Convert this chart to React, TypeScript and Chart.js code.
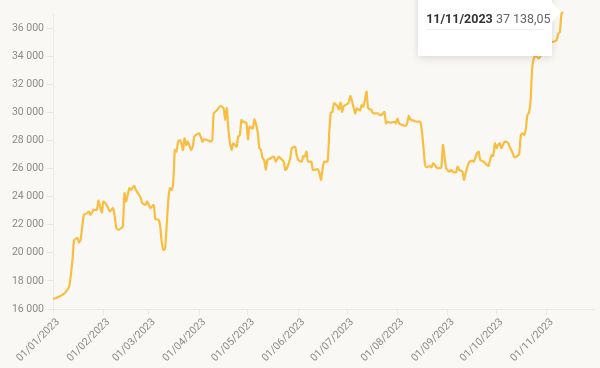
import React, { useEffect, useRef } from "react";
import { Chart, registerables } from "chart.js";

Chart.register(...registerables);

// Day offsets from 01/01/2023 and values
const days: number[] = [
  0, 2, 4, 6, 8, 10, 12, 13, 15, 16, 17, 19, 21, 22, 23, 25, 27, 28, 30, 31,
  33, 35, 37, 38, 39, 40, 42, 43, 44, 45, 47, 48, 50, 51, 53, 54, 55, 57, 58, 60,
  62, 63, 65, 66, 67, 68, 69, 70, 71, 72, 73, 74, 75, 76, 77, 78, 79, 80, 81, 82,
  83, 85, 86, 87, 88, 90, 92, 93, 95, 97, 98, 99, 101, 103, 105, 106, 107, 108, 109, 110,
  111, 113, 114, 115, 116, 117, 119, 120, 121, 123, 124, 126, 127, 128, 129, 130, 131, 132, 134, 136,
  137, 139, 140, 142, 143, 144, 146, 147, 149, 150, 151, 153, 154, 155, 156, 157, 159, 160, 163, 164,
  165, 166, 167, 169, 170, 171, 172, 173, 175, 176, 177, 178, 179, 181, 182, 183, 184, 186, 187, 189,
  190, 191, 192, 193, 194, 196, 197, 200, 201, 203, 204, 205, 206, 208, 210, 211, 212, 213, 215, 217,
  218, 219, 220, 222, 224, 226, 227, 228, 229, 230, 232, 233, 234, 236, 237, 239, 240, 241, 242, 244,
  245, 246, 248, 249, 250, 252, 253, 254, 256, 258, 259, 261, 262, 263, 265, 267, 268, 270, 271, 272,
  273, 274, 275, 276, 278, 280, 281, 283, 284, 286, 287, 288, 289, 290, 291, 292, 293, 294, 295, 296,
  297, 299, 301, 303, 305, 307, 308, 310, 311, 312, 313, 314,
];

const values: number[] = [
  16710, 16780, 16900, 17020, 17250, 17600, 19500, 20880, 21050, 20730, 20920, 22700, 22820, 22940, 22700, 23060, 23060, 23720, 22860, 23650,
  23410, 22940, 23180, 22580, 21760, 21640, 21760, 21870, 24240, 23650, 24600, 24480, 24760, 24480, 24120, 23890, 23530, 23410, 23650, 23180,
  23410, 22400, 22350, 21870, 20690, 20210, 20330, 22000, 23770, 24600, 24480, 24960, 27320, 27200, 27910, 28030, 27800, 27320, 28150, 27680,
  27910, 27320, 27560, 28270, 28390, 28510, 27910, 28080, 28030, 27910, 28030, 29930, 30160, 30450, 30290, 29450, 30290, 28740, 27800, 27320,
  27800, 27560, 28270, 28390, 29450, 29330, 29260, 28080, 28980, 28860, 29500, 28620, 27440, 27320, 26730, 26610, 25900, 26610, 26730, 26850,
  26490, 26850, 26730, 26490, 25900, 26020, 26730, 27440, 27560, 26970, 26610, 26490, 26900, 26850, 27200, 26490, 26490, 25900, 25950, 25670,
  25190, 26020, 26490, 26490, 28510, 29970, 30040, 30640, 30450, 30210, 30690, 30040, 30450, 30590, 30690, 31160, 30830, 29930, 30290, 30120,
  30520, 30400, 30880, 31470, 30290, 30160, 29930, 29930, 29810, 29880, 30040, 29220, 29330, 29260, 29330, 29220, 29570, 29220, 29100, 29030,
  29220, 29740, 29500, 29400, 29330, 29330, 28740, 27560, 26260, 26090, 26180, 26090, 26380, 26090, 26020, 26090, 27680, 26850, 26020, 25780,
  25900, 25780, 25710, 26130, 25900, 25780, 25190, 25670, 26420, 26560, 26490, 27090, 27200, 26610, 26490, 26260, 26180, 26970, 26900, 27800,
  27440, 27680, 27800, 27440, 27910, 27840, 27560, 27090, 26800, 26900, 27090, 28390, 28510, 28390, 28800, 29810, 29970, 30880, 33240, 33840,
  34070, 33840, 34200, 34500, 34800, 35020, 35020, 35140, 35610, 35730, 37040, 37138.05,
];

// Month-start tick positions (day offsets), y tick values and axis limits
const monthTicks: number[] = [0, 31, 59, 90, 120, 151, 181, 212, 243, 273, 304];
const yTicks: number[] = [16000, 18000, 20000, 22000, 24000, 26000, 28000, 30000, 32000, 34000, 36000];
const X_MAX = 333;
const Y_MIN = 16000;
const Y_MAX = 37000;

const LINE_COLOR = "#f9bd3f";
const BG = "#faf8f4";
const FONT = "Roboto, 'Noto Sans', sans-serif";

function dateLabel(d: number): string {
  const dt = new Date(2023, 0, 1 + Math.round(d));
  const dd = String(dt.getDate()).padStart(2, "0");
  const mm = String(dt.getMonth() + 1).padStart(2, "0");
  return `${dd}/${mm}/${dt.getFullYear()}`;
}

function fmtInt(v: number): string {
  return v.toLocaleString("fr-FR", { maximumFractionDigits: 0 }).replace(/[\s\u202f\u00a0]/g, " ");
}
function fmtVal(v: number): string {
  return v
    .toLocaleString("fr-FR", { minimumFractionDigits: 2, maximumFractionDigits: 2 })
    .replace(/[\s\u202f\u00a0]/g, " ");
}

export default function App() {
  const canvasRef = useRef<HTMLCanvasElement | null>(null);
  const tipRef = useRef<HTMLDivElement | null>(null);
  const caretRef = useRef<HTMLDivElement | null>(null);

  useEffect(() => {
    document.body.style.margin = "0";
    document.body.style.background = BG;
    const canvas = canvasRef.current;
    if (!canvas) return;

    const external = (ctx: any) => {
      const { tooltip } = ctx;
      const tip = tipRef.current;
      const caret = caretRef.current;
      if (!tip || !caret) return;
      if (tooltip.opacity === 0) {
        tip.style.display = "none";
        caret.style.display = "none";
        return;
      }
      const title = (tooltip.title || [])[0] || "";
      const body = tooltip.body && tooltip.body[0] ? tooltip.body[0].lines[0] : "";
      tip.innerHTML = "";
      const row = document.createElement("div");
      row.style.cssText =
        "height:21px;line-height:21px;border-bottom:1px solid #f1efeb;white-space:nowrap;";
      const b = document.createElement("b");
      b.textContent = title;
      b.style.color = "#333";
      const s = document.createElement("span");
      s.textContent = " " + body;
      s.style.color = "#666";
      row.appendChild(b);
      row.appendChild(s);
      tip.appendChild(row);
      const boxRight = tooltip.caretX - 11;
      const w = 134;
      tip.style.display = "block";
      tip.style.left = boxRight - w + "px";
      tip.style.width = w - 16 + "px";
      tip.style.top = tooltip.caretY - 34 + "px";
      caret.style.display = "block";
      caret.style.left = boxRight + "px";
      caret.style.top = tooltip.caretY - 10 + "px";
    };

    const chart = new Chart(canvas, {
      type: "line",
      data: {
        datasets: [
          {
            data: days.map((d, i) => ({ x: d, y: values[i] })),
            borderColor: LINE_COLOR,
            backgroundColor: LINE_COLOR,
            borderWidth: 2.2,
            pointRadius: 0,
            pointHoverRadius: 0,
            tension: 0.2,
            clip: false as any,
          },
        ],
      },
      options: {
        animation: false,
        responsive: false,
        maintainAspectRatio: false,
        events: [],
        layout: { padding: { top: 14, right: 6, bottom: 0, left: 0 } },
        plugins: {
          legend: { display: false },
          tooltip: {
            enabled: false,
            external,
            callbacks: {
              title: (items: any[]) => dateLabel(items[0].parsed.x),
              label: (item: any) => fmtVal(item.parsed.y),
            },
          },
        },
        scales: {
          x: {
            type: "linear",
            min: 0,
            max: X_MAX,
            afterFit: (s: any) => {
              s.height = 59;
            },
            afterBuildTicks: (s: any) => {
              s.ticks = monthTicks.map((v) => ({ value: v }));
            },
            grid: {
              display: true,
              drawOnChartArea: false,
              drawTicks: true,
              tickLength: 6,
              color: "#ebe9e5",
            },
            border: { display: true, color: "#ebe9e5" },
            ticks: {
              autoSkip: false,
              maxRotation: 45,
              minRotation: 45,
              padding: 1,
              labelOffset: 5,
              color: "#8a8a8a",
              font: { family: FONT, size: 10.5 },
              callback: (v: any) => dateLabel(Number(v)),
            },
          },
          y: {
            type: "linear",
            min: Y_MIN,
            max: Y_MAX,
            afterFit: (s: any) => {
              s.width = 53;
            },
            afterBuildTicks: (s: any) => {
              s.ticks = yTicks.map((v) => ({ value: v }));
            },
            grid: {
              display: true,
              drawOnChartArea: false,
              drawTicks: true,
              tickLength: 6,
              color: "#ebe9e5",
            },
            border: { display: true, color: "#ebe9e5" },
            ticks: {
              padding: 3,
              color: "#8a8a8a",
              font: { family: FONT, size: 10.5 },
              callback: (v: any) => fmtInt(Number(v)),
            },
          } as any,
        },
      },
    });

    const last = days.length - 1;
    const el = chart.getDatasetMeta(0).data[last] as any;
    chart.tooltip?.setActiveElements([{ datasetIndex: 0, index: last }], { x: el.x, y: el.y });
    chart.update();

    return () => {
      chart.destroy();
    };
  }, []);

  return (
    <div style={{ position: "relative", width: 600, height: 368, overflow: "hidden", background: BG }}>
      <canvas ref={canvasRef} width={600} height={368} style={{ display: "block" }} />
      <div
        ref={tipRef}
        style={{
          position: "absolute",
          display: "none",
          background: "#fff",
          padding: "30px 8px 26px 8px",
          boxShadow: "0 2px 8px rgba(0,0,0,0.13)",
          fontFamily: FONT,
          fontSize: 12.5,
          pointerEvents: "none",
        }}
      />
      <div
        ref={caretRef}
        style={{
          position: "absolute",
          display: "none",
          width: 0,
          height: 0,
          borderTop: "10px solid transparent",
          borderBottom: "10px solid transparent",
          borderLeft: "9px solid #fff",
          pointerEvents: "none",
        }}
      />
    </div>
  );
}
